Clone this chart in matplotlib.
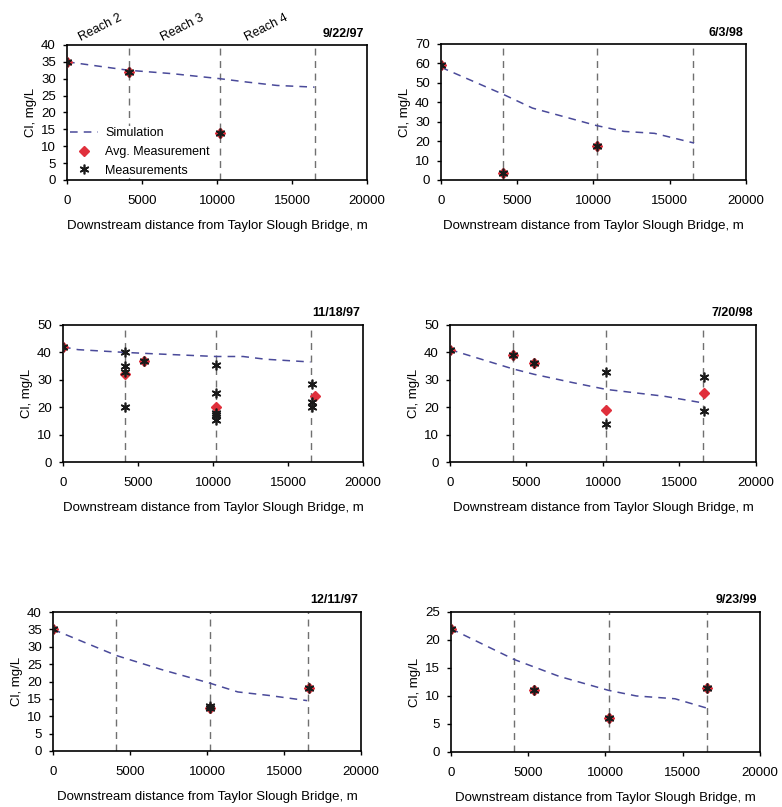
import matplotlib
matplotlib.use("Agg")
import matplotlib.pyplot as plt
import matplotlib.transforms as mtransforms

plt.rcParams['font.family'] = ['Liberation Sans', 'DejaVu Sans']
plt.rcParams['font.size'] = 9.5

# reach boundaries, m downstream of Taylor Slough Bridge
reach_x = [4100, 10200, 16550]
reach_names = ["Reach 2", "Reach 3", "Reach 4"]
reach_label_x = [2200, 7700, 13300]

dates = ["9/22/97", "6/3/98", "11/18/97", "7/20/98", "12/11/97", "9/23/99"]

# simulated Cl profiles
sim_x = [
    [0, 4100, 7000, 10200, 12000, 14000, 16500],
    [0, 4100, 6000, 10200, 12000, 14000, 16600],
    [0, 1000, 4100, 6000, 10200, 12000, 13500, 16500],
    [0, 4100, 5500, 8000, 10200, 14000, 16600],
    [0, 4100, 7000, 10200, 12000, 14000, 16500],
    [0, 4100, 7000, 10200, 12000, 14500, 16600],
]
sim_y = [
    [35, 32.5, 31.5, 30, 29, 28, 27.5],
    [58, 44, 37, 28, 25, 24, 19],
    [42, 41, 40, 39.5, 38.5, 38.5, 37.5, 36.5],
    [41, 34, 32, 29, 26.5, 24, 21.5],
    [35, 27.5, 23.5, 19.5, 17, 16, 14.5],
    [22, 16.5, 13.5, 11, 10, 9.5, 7.8],
]

# individual measurements
meas_x = [
    [0, 4100, 10200],
    [0, 4100, 10200],
    [0, 4100, 4100, 4100, 4100, 5400, 10200, 10200, 10200, 10200, 10200, 16600, 16600, 16600],
    [0, 4100, 5500, 10200, 10200, 16600, 16600],
    [0, 10200, 10200, 16600],
    [0, 5400, 10200, 16600],
]
meas_y = [
    [35, 32, 14],
    [59, 3.5, 17.5],
    [42, 40, 35, 33, 20, 37, 35.5, 25, 18, 17, 15.5, 28.5, 22, 20],
    [41, 39, 36, 33, 14, 31, 18.5],
    [35, 13, 12.5, 18],
    [22, 11, 6, 11.5],
]

# averaged measurements
avg_x = [
    [0, 4100, 10200],
    [0, 4100, 10200],
    [0, 4100, 5400, 10200, 16800],
    [0, 4100, 5500, 10200, 16600],
    [0, 10200, 16600],
    [0, 5400, 10200, 16600],
]
avg_y = [
    [35, 32, 14],
    [59, 3.5, 17.5],
    [42, 32, 37, 20, 24],
    [41, 39, 36, 19, 25],
    [35, 12.5, 18],
    [22, 11, 6, 11.5],
]

y_max = [40, 70, 50, 50, 40, 25]
y_step = [5, 10, 10, 10, 5, 5]

# axes boxes in figure fraction (left, bottom, width, height)
boxes = [
    (0.0857, 0.7770, 0.3836, 0.1673),
    (0.5639, 0.7770, 0.3900, 0.1685),
    (0.0806, 0.4275, 0.3836, 0.1698),
    (0.5754, 0.4275, 0.3913, 0.1698),
    (0.0678, 0.0694, 0.3939, 0.1722),
    (0.5767, 0.0682, 0.3951, 0.1735),
]

fig = plt.figure(figsize=(7.82, 8.07), dpi=100)

for i in range(6):
    ax = fig.add_axes(boxes[i])
    for rx in reach_x:
        ax.axvline(rx, color='#707070', ls=(0, (5, 4)), lw=1.0, zorder=1)
    ax.plot(sim_x[i], sim_y[i], color='#4a4a9a', ls=(0, (5, 4)), lw=1.1,
            label='Simulation', zorder=2)
    ax.plot(avg_x[i], avg_y[i], ls='none', marker='D', ms=5, color='#e0303c',
            label='Avg. Measurement', zorder=3)
    ax.plot(meas_x[i], meas_y[i], ls='none', marker=(6, 2, 0), ms=7,
            mew=1.2, color='#1a1a1a', label='Measurements', zorder=4)

    ax.set_xlim(0, 20000)
    ax.set_ylim(0, y_max[i])
    ax.set_xticks(range(0, 20001, 5000))
    ax.set_yticks(range(0, y_max[i] + 1, y_step[i]))
    ax.tick_params(direction='out', length=3, width=1, pad=5)
    ax.tick_params(axis='x', pad=8)
    for s in ax.spines.values():
        s.set_linewidth(1.2)
    ax.set_ylabel('Cl, mg/L', labelpad=3)
    ax.set_xlabel('Downstream distance from Taylor Slough Bridge, m', labelpad=9)
    ax.text(0.99, 1.04, dates[i], transform=ax.transAxes, ha='right',
            va='bottom', fontsize=9, fontweight='bold')

    if i == 0:
        trans = mtransforms.blended_transform_factory(ax.transData, ax.transAxes)
        for lx, name in zip(reach_label_x, reach_names):
            ax.text(lx, 1.13, name, transform=trans, rotation=27,
                    ha='center', va='center', fontsize=9)
        leg = ax.legend(loc='lower left', frameon=True, fontsize=9,
                        borderaxespad=0.15, handlelength=2.2, labelspacing=0.55,
                        borderpad=0.1, handletextpad=0.6)
        leg.get_frame().set_edgecolor('none')
        leg.get_frame().set_facecolor('white')
        leg.get_frame().set_alpha(1)

fig.savefig('out.png', dpi=100)
